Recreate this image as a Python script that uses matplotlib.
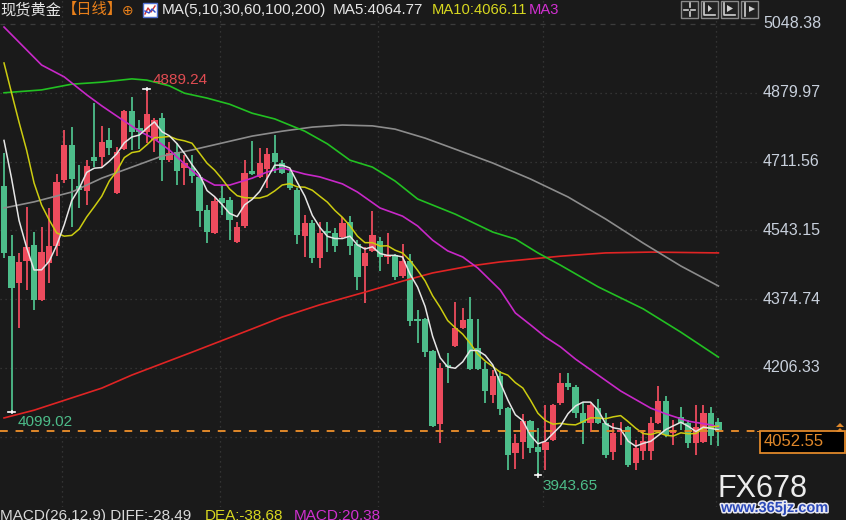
import numpy as np
import pandas as pd
import matplotlib
matplotlib.use("Agg")
import matplotlib.pyplot as plt
from matplotlib.patches import Rectangle
import matplotlib.patheffects as pe

plt.rcParams['font.family'] = ['Liberation Sans', 'Noto Sans CJK SC', 'DejaVu Sans']

W, H = 846, 520

# daily candles (spot gold), oldest first
opens = [4652, 4480, 4414, 4468, 4507, 4373, 4463, 4505, 4667, 4752,
         4652, 4640, 4723, 4723, 4764, 4635, 4742, 4835, 4794, 4784,
         4764, 4818, 4715, 4735, 4696, 4696, 4674, 4593, 4537, 4622,
         4618, 4515, 4554, 4689, 4674, 4693, 4733, 4708, 4684, 4642,
         4529, 4561, 4476, 4542, 4537, 4527, 4564, 4510, 4456, 4493,
         4517, 4478, 4483, 4432, 4468, 4326, 4326, 4248, 4069, 4214,
         4260, 4304, 4326, 4255, 4204, 4140, 4187, 4108, 3998, 4025,
         4077, 4013, 4006, 4030, 4121, 4170, 4160, 4096, 4072, 4108,
         4072, 4001, 4050, 4062, 3974, 4003, 4003, 4072, 4126, 4047,
         4086, 4072, 4023, 4025, 4096, 4074]
highs = [4733, 4532, 4488, 4600, 4539, 4551, 4598, 4681, 4789, 4796,
         4703, 4715, 4855, 4799, 4794, 4747, 4838, 4870, 4813, 4889.24,
         4818, 4831, 4760, 4757, 4728, 4728, 4679, 4605, 4625, 4654,
         4625, 4564, 4715, 4762, 4745, 4745, 4777, 4715, 4691, 4647,
         4581, 4569, 4564, 4564, 4549, 4576, 4578, 4520, 4502, 4591,
         4527, 4537, 4485, 4510, 4485, 4348, 4329, 4250, 4219, 4243,
         4368, 4353, 4380, 4326, 4221, 4201, 4199, 4111, 4045, 4094,
         4079, 4059, 4116, 4118, 4194, 4194, 4165, 4123, 4123, 4130,
         4096, 4072, 4074, 4064, 4030, 4055, 4086, 4162, 4138, 4079,
         4111, 4079, 4116, 4116, 4111, 4084]
lows = [4476, 4099.02, 4304, 4397, 4348, 4370, 4414, 4480, 4659, 4551,
        4598, 4605, 4698, 4698, 4728, 4633, 4740, 4740, 4742, 4757,
        4735, 4664, 4711, 4654, 4654, 4659, 4551, 4512, 4534, 4581,
        4520, 4512, 4549, 4679, 4671, 4647, 4684, 4681, 4642, 4510,
        4478, 4463, 4451, 4490, 4490, 4524, 4483, 4397, 4365, 4490,
        4444, 4461, 4422, 4427, 4309, 4267, 4233, 4062, 4023, 4170,
        4258, 4302, 4201, 4201, 4121, 4121, 4091, 3957, 3959, 3984,
        3998, 3943.65, 3957, 4028, 4116, 4152, 4084, 4020, 4050, 4069,
        3986, 3981, 4018, 3964, 3957, 3981, 3981, 4070, 4037, 4018,
        4055, 4010, 3993, 4023, 4018, 4016]
closes = [4488, 4402, 4466, 4502, 4373, 4490, 4505, 4662, 4752, 4669,
          4642, 4701, 4713, 4760, 4745, 4735, 4835, 4784, 4784, 4828,
          4813, 4715, 4733, 4689, 4708, 4676, 4591, 4539, 4615, 4610,
          4569, 4551, 4684, 4681, 4708, 4730, 4711, 4684, 4647, 4532,
          4561, 4476, 4537, 4537, 4505, 4561, 4505, 4429, 4488, 4532,
          4478, 4483, 4429, 4468, 4321, 4321, 4245, 4064, 4206, 4209,
          4304, 4324, 4204, 4204, 4150, 4187, 4106, 3993, 4023, 4077,
          4010, 4001, 4025, 4116, 4170, 4160, 4096, 4072, 4116, 4072,
          3993, 4047, 4055, 3969, 4010, 4028, 4072, 4126, 4042, 4055,
          4072, 4023, 4062, 4096, 4040, 4052.55]
# closes just before the visible window, only used to seed MA5 / MA10
prior_closes = [5132, 5186, 5182, 5183, 5030, 4865, 4982, 4832, 4650]

# longer averages at a few candles
ma30_idx = [0, 5, 8, 11, 13, 15, 18, 20, 22, 24, 26, 28, 30, 33, 35, 37, 40, 42, 45, 47,
            50, 53, 55, 57, 59, 61, 63, 66, 68, 70, 72, 74, 76, 79, 82, 86, 88, 91, 94, 95]
ma30_val = [5041, 4948, 4919, 4875, 4848, 4823, 4786, 4767, 4740, 4706, 4674, 4654, 4654,
            4671, 4686, 4696, 4681, 4674, 4657, 4637, 4598, 4578, 4554, 4519, 4493, 4478,
            4451, 4397, 4341, 4312, 4282, 4258, 4228, 4189, 4150, 4108, 4094, 4076, 4067, 4062]
ma60_idx = [0, 5, 9, 13, 17, 19, 22, 24, 27, 30, 33, 36, 40, 43, 46, 49, 52, 55, 60, 65,
            68, 71, 74, 79, 85, 90, 95]
ma60_val = [4880, 4887, 4901, 4906, 4914, 4911, 4897, 4879, 4867, 4852, 4830, 4816, 4786,
            4755, 4715, 4698, 4664, 4620, 4583, 4539, 4522, 4488, 4458, 4405, 4351, 4294, 4233]
ma100_idx = [0, 4, 9, 13, 17, 21, 25, 29, 33, 37, 41, 45, 49, 52, 56, 60, 65, 70, 75, 80,
             85, 90, 95]
ma100_val = [4598, 4613, 4637, 4671, 4698, 4725, 4740, 4757, 4774, 4786, 4796, 4801, 4799,
             4791, 4769, 4742, 4708, 4669, 4625, 4571, 4512, 4456, 4407]
ma200_idx = [0, 4, 9, 13, 17, 25, 33, 37, 42, 48, 53, 57, 62, 66, 70, 74, 80, 86, 95]
ma200_val = [4084, 4103, 4133, 4157, 4189, 4245, 4302, 4331, 4361, 4392, 4419, 4439, 4456,
             4466, 4473, 4480, 4488, 4490, 4488]

price_ticks = [5048.38, 4879.97, 4711.56, 4543.15, 4374.74, 4206.33, 4037.92]
vgrid_idx = [8, 29, 50, 72, 95]
last_price = 4052.55
hi_idx, lo_idx, lo2_idx = 19, 71, 1

BG = '#1a1a1a'
UP = '#ec4b5d'
DOWN = '#4dbd8a'
ORANGE = '#e0882a'


def fx(px):
    return px / W


def fy(py):
    return 1 - py / H


fig = plt.figure(figsize=(W / 100, H / 100), dpi=100, facecolor=BG)
ax = fig.add_axes([0, fy(507), fx(757), 507 / H])
ax.set_facecolor(BG)
for s in ax.spines.values():
    s.set_visible(False)
ax.set_xticks([])
ax.set_yticks([])
ax.set_xlim(-4 / 7.52, 753 / 7.52)
ax.set_ylim(5107.13 - 2.448 * 507, 5107.13)

# grid
for i, p in enumerate(price_ticks):
    ls = (0, (4, 4)) if i == 0 else (0, (1, 3))
    ax.axhline(p, color='#3c3c3c', lw=0.9, ls=ls, zorder=0)
for v in vgrid_idx:
    ax.axvline(v - 0.3, color='#3c3c3c', lw=0.9, ls=(0, (1, 3)), zorder=0)

# candles
o = np.array(opens, float)
h = np.array(highs, float)
l = np.array(lows, float)
c = np.array(closes, float)
x = np.arange(len(c))
col = np.where(c > o, UP, DOWN)
ax.vlines(x, l, h, colors=col, lw=1.3, zorder=2)
body = np.maximum(np.abs(c - o), 2.5)
ax.bar(x, body, bottom=np.minimum(o, c), width=0.84, color=col, lw=0, zorder=3)

# moving averages
allc = pd.Series(prior_closes + list(closes), dtype=float)
ma5 = allc.rolling(5).mean().iloc[len(prior_closes):].values
ma10 = allc.rolling(10).mean().iloc[len(prior_closes):].values
ax.plot(ma200_idx, ma200_val, color='#e02424', lw=1.2, zorder=4)
ax.plot(ma100_idx, ma100_val, color='#8c8c8c', lw=1.2, zorder=4)
ax.plot(ma60_idx, ma60_val, color='#22c022', lw=1.2, zorder=4)
ax.plot(ma30_idx, ma30_val, color='#c828c8', lw=1.2, zorder=4)
ax.plot(x, ma10, color='#cccc10', lw=1.1, zorder=5)
ax.plot(x, ma5, color='#e6e6e6', lw=1.1, zorder=6)

# current price line
ax.axhline(last_price, color=ORANGE, lw=1.4, ls=(0, (4, 4)), zorder=7)

# extreme markers
for idx, val in [(hi_idx, highs[hi_idx]), (lo_idx, lows[lo_idx]), (lo2_idx, lows[lo2_idx])]:
    ax.plot([idx - 0.45, idx + 0.45], [val, val], color='white', lw=1.2, zorder=8)
    ax.plot([idx, idx], [val - 3, val + 3], color='white', lw=1.2, zorder=8)
ax.text(hi_idx + 0.8, highs[hi_idx] + 22, f'{highs[hi_idx]:.2f}', color='#e04c52',
        fontsize=11, va='center', ha='left', zorder=9)
ax.text(lo2_idx + 0.8, lows[lo2_idx] - 25, f'{lows[lo2_idx]:.2f}', color=DOWN,
        fontsize=11, va='center', ha='left', zorder=9)
ax.text(lo_idx + 0.6, lows[lo_idx] - 27, f'{lows[lo_idx]:.2f}', color=DOWN,
        fontsize=11, va='center', ha='left', zorder=9)

# right price axis (the lowest label sits behind the last-price box)
for p in price_ticks:
    py = (5107.13 - p) / 2.448
    fig.text(fx(763), fy(py + 3 if p < last_price else py), f'{p:.2f}', color='#c8d0dc',
             fontsize=11.5, va='center', ha='left', zorder=1)
fig.add_artist(Rectangle((fx(757), fy(432)), fx(10), 1 / H, color=ORANGE, lw=0))
fig.add_artist(Rectangle((fx(760), fy(453)), fx(85), 22 / H, facecolor='black',
                         edgecolor=ORANGE, lw=1.3, zorder=10))
fig.text(fx(764), fy(442), f'{last_price:.2f}', color=ORANGE, fontsize=12,
         va='center', ha='left', zorder=11)
for ty in (423, 428):
    fig.add_artist(plt.Polygon([[fx(836), fy(ty + 4)], [fx(844), fy(ty + 4)], [fx(840), fy(ty)]],
                               closed=True, color=ORANGE, lw=0, zorder=12))

# header
fig.text(fx(0), fy(10), '现货黄金', color='#e6e6e6', fontsize=11, va='center', ha='left')
fig.text(fx(62), fy(10), '【日线】', color='#e8801a', fontsize=11, va='center', ha='left')
fig.text(fx(122), fy(11), '⊕', color='#e8801a', fontsize=10, va='center', ha='left',
         family='DejaVu Sans')
fig.add_artist(Rectangle((fx(143), fy(17)), fx(14), 14 / H, facecolor='white',
                         edgecolor='#5070d0', lw=1))
fig.add_artist(plt.Line2D([fx(145), fx(148), fx(151), fx(155)], [fy(14), fy(8), fy(12), fy(6)],
                          color='#d03030', lw=1))
fig.add_artist(plt.Line2D([fx(145), fx(149), fx(152), fx(155)], [fy(11), fy(13), fy(9), fy(12)],
                          color='#3050d0', lw=1))
fig.text(fx(162), fy(10), 'MA(5,10,30,60,100,200)', color='#e6e6e6', fontsize=11,
         va='center', ha='left')
fig.text(fx(333), fy(10), 'MA5:4064.77', color='#e6e6e6', fontsize=11, va='center', ha='left')
fig.text(fx(432), fy(10), 'MA10:4066.11', color='#d8d820', fontsize=10.6, va='center', ha='left')
fig.text(fx(529), fy(10), 'MA3', color='#d030d0', fontsize=10.6, va='center', ha='left')

# toolbar buttons
for bx in (681, 701, 721, 741):
    fig.add_artist(Rectangle((fx(bx), fy(18)), fx(17), 17 / H, facecolor='#222222',
                             edgecolor='#8a8a8a', lw=1))
glyph = dict(color='#d0d0d0', lw=1.2)
fig.add_artist(plt.Line2D([fx(684), fx(688)], [fy(9.5)] * 2, **glyph))
fig.add_artist(plt.Line2D([fx(691), fx(695)], [fy(9.5)] * 2, **glyph))
fig.add_artist(plt.Line2D([fx(689.5)] * 2, [fy(3), fy(7)], **glyph))
fig.add_artist(plt.Line2D([fx(689.5)] * 2, [fy(12), fy(16)], **glyph))
for bx in (701, 721):
    fig.add_artist(plt.Line2D([fx(bx + 3), fx(bx + 3), fx(bx + 14)], [fy(3), fy(15), fy(15)], **glyph))
fig.add_artist(plt.Polygon([[fx(708), fy(5)], [fx(708), fy(12)], [fx(712), fy(8.5)]],
                           closed=True, color='#d0d0d0', lw=0))
fig.add_artist(plt.Polygon([[fx(727), fy(5)], [fx(727), fy(12)], [fx(733), fy(8.5)]],
                           closed=True, color='#d0d0d0', lw=0))
fig.add_artist(plt.Line2D([fx(745), fx(745)], [fy(3), fy(16)], **glyph))
fig.add_artist(plt.Polygon([[fx(749), fy(6)], [fx(749), fy(12)], [fx(755), fy(9)]],
                           closed=True, color='#d0d0d0', lw=0))

# MACD caption (the panel below is cut off by the image edge)
fig.text(fx(0), fy(509), 'MACD(26,12,9) DIFF:-28.49', color='#d8d8d8', fontsize=11,
         va='top', ha='left')
fig.text(fx(205), fy(509), 'DEA:-38.68', color='#d8d820', fontsize=11, va='top', ha='left')
fig.text(fx(294), fy(509), 'MACD:20.38', color='#d030d0', fontsize=11, va='top', ha='left')

# watermark
fig.text(fx(717), fy(497), 'FX678', color='#ececec', fontsize=22, va='baseline', ha='left')
fig.text(fx(721), fy(501), 'www.365jz.com', color='#2a48b8', fontsize=10.5, weight='bold',
         va='top', ha='left',
         path_effects=[pe.withStroke(linewidth=2.2, foreground='#e8e8f0')])

fig.savefig('out.png', dpi=100, facecolor=BG)
